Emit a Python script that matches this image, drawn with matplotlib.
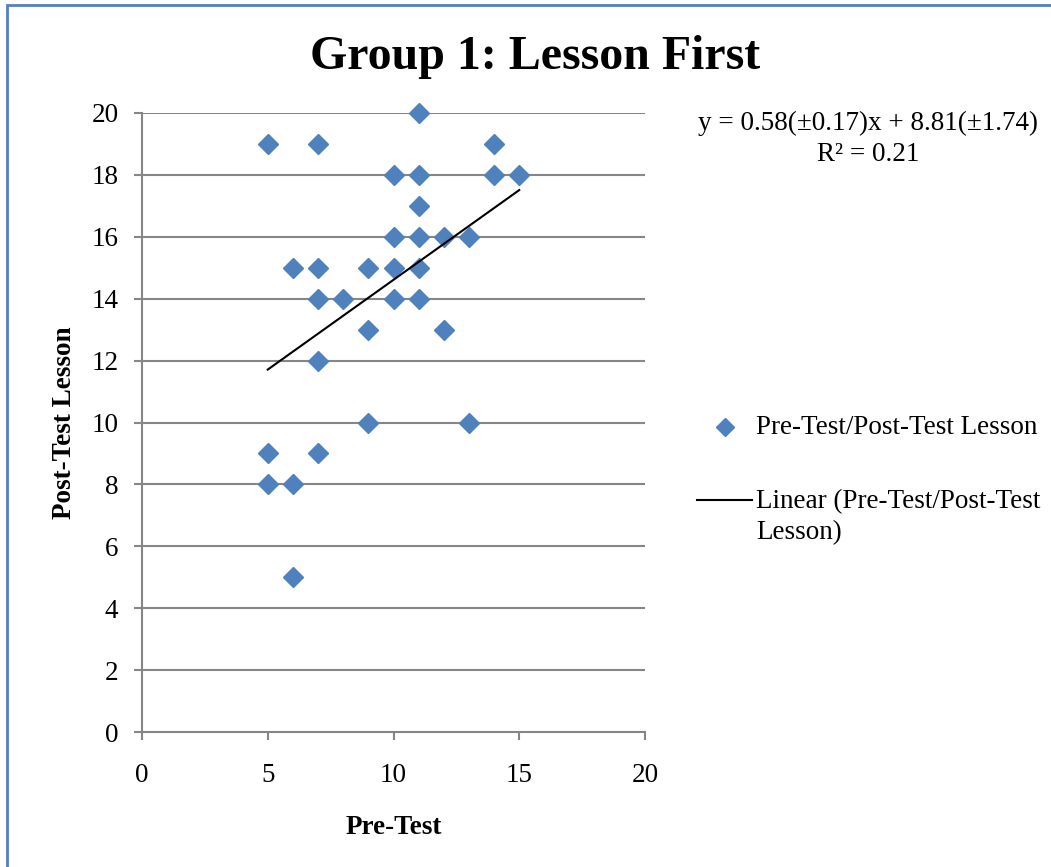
import matplotlib.pyplot as plt
from matplotlib.lines import Line2D
from matplotlib.patches import Rectangle

plt.rcParams["font.family"] = ["Liberation Serif", "DejaVu Serif"]

# Pre-test vs post-test scores
pre = [11, 5, 7, 14, 10, 11, 14, 15, 11, 10, 11, 12, 13, 6, 7, 9, 10, 11,
       7, 8, 10, 11, 9, 12, 7, 9, 13, 5, 7, 5, 6, 6]
post = [20, 19, 19, 19, 18, 18, 18, 18, 17, 16, 16, 16, 16, 15, 15, 15, 15, 15,
        14, 14, 14, 14, 13, 13, 12, 10, 10, 9, 9, 8, 8, 5]

# Linear trendline coefficients
slope = 0.58
intercept = 8.81
r2 = 0.21

series_name = "Pre-Test/Post-Test Lesson"
trend_name = "Linear (Pre-Test/Post-Test\nLesson)"

blue = "#4F81BD"
grey = "#868686"

W, H = 1051, 867
fig = plt.figure(figsize=(W / 100, H / 100), dpi=100)
ax = fig.add_axes([142 / W, 1 - 732 / H, 503 / W, 619 / H])

ax.set_xlim(0, 20)
ax.set_ylim(0, 20)
ax.set_xticks(range(0, 21, 5))
ax.set_yticks(range(0, 21, 2))

for y in range(2, 21, 2):
    ax.axhline(y, color=grey, lw=1.5, zorder=1)

for s in ["top", "right"]:
    ax.spines[s].set_visible(False)
for s in ["left", "bottom"]:
    ax.spines[s].set_color(grey)
    ax.spines[s].set_linewidth(1.5)
ax.tick_params(axis="both", colors=grey, width=1.5, length=6, labelsize=19.5,
               labelcolor="black")
ax.tick_params(axis="y", pad=11)
ax.tick_params(axis="x", pad=16)

ax.plot(pre, post, "D", color=blue, ms=10.5, mec=blue, zorder=3, clip_on=False)

x0, x1 = min(pre), max(pre)
ax.plot([x0, x1], [slope * x0 + intercept, slope * x1 + intercept],
        color="black", lw=1.5, zorder=4)

ax.set_xlabel("Pre-Test", fontsize=19.5, fontweight="bold", labelpad=20)
ax.set_ylabel("Post-Test Lesson", fontsize=19.5, fontweight="bold", labelpad=10)

fig.text(535 / W, 1 - 57 / H, "Group 1: Lesson First", fontsize=34.5,
         fontweight="bold", ha="center", va="center")

fig.text(868 / W, 1 - 139 / H,
         "y = 0.58(\u00b10.17)x + 8.81(\u00b11.74)\nR\u00b2 = %.2f" % r2,
         fontsize=19.5, ha="center", va="center", linespacing=1.3)

# legend drawn by hand: marker entry, then trendline entry
fig.add_artist(Line2D([725 / W], [1 - 427 / H], marker="D", ls="none",
                      color=blue, ms=9.5, transform=fig.transFigure))
fig.text(756 / W, 1 - 428 / H, series_name, fontsize=19.5, va="center")
fig.add_artist(Line2D([697 / W, 752 / W], [1 - 500 / H, 1 - 500 / H],
                      color="black", lw=1.5, transform=fig.transFigure))
fig.text(756 / W, 1 - 489 / H, trend_name, fontsize=19.5, va="top",
         linespacing=1.3)

# blue frame around the chart
fig.add_artist(Rectangle((7 / W, -0.1), 1.2, 1.1 - 5 / H,
                         transform=fig.transFigure, fill=False,
                         edgecolor=blue, lw=2))

fig.savefig("out.png", dpi=100)
